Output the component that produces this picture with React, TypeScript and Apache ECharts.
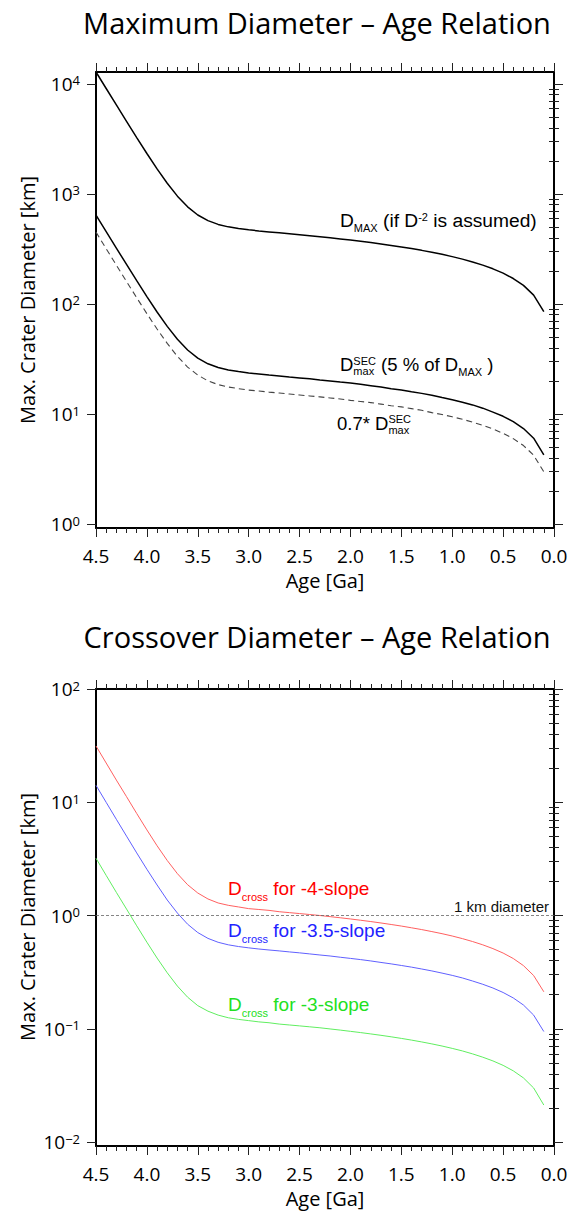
import React, { useEffect, useRef } from "react";
import * as echarts from "echarts";

// ---------- data ----------
const AGES = [4.5, 4.4, 4.3, 4.2, 4.1, 4.0, 3.9, 3.8, 3.7, 3.6, 3.5, 3.4, 3.3, 3.2, 3.1, 3.0, 2.9, 2.8, 2.7, 2.6, 2.5, 2.4, 2.3, 2.2, 2.1, 2.0, 1.9, 1.8, 1.7, 1.6, 1.5, 1.4, 1.3, 1.2, 1.1, 1.0, 0.9, 0.8, 0.7, 0.6, 0.5, 0.4, 0.3, 0.2, 0.1];

const D_MAX = [12850, 9096, 6444, 4573, 3256, 2333, 1691, 1251, 955.6, 764.0, 644.5, 572.3, 529.1, 502.6, 485.0, 472.2, 461.7, 452.4, 443.6, 434.9, 426.3, 417.6, 408.8, 399.8, 390.6, 381.2, 371.5, 361.6, 351.4, 340.9, 330.1, 318.9, 307.3, 295.2, 282.7, 269.5, 255.7, 241.1, 225.5, 208.8, 190.6, 170.5, 147.6, 120.5, 85.2];

const D_SEC = [642.5, 454.8, 322.2, 228.7, 162.8, 116.7, 84.6, 62.6, 47.8, 38.2, 32.2, 28.6, 26.5, 25.1, 24.3, 23.6, 23.1, 22.6, 22.2, 21.7, 21.3, 20.9, 20.4, 20.0, 19.5, 19.1, 18.6, 18.1, 17.6, 17.0, 16.5, 15.9, 15.4, 14.8, 14.1, 13.5, 12.8, 12.1, 11.3, 10.4, 9.53, 8.53, 7.38, 6.03, 4.26];

const D_SEC_07 = [449.8, 318.4, 225.5, 160.1, 114.0, 81.7, 59.2, 43.8, 33.4, 26.7, 22.6, 20.0, 18.5, 17.6, 17.0, 16.5, 16.2, 15.8, 15.5, 15.2, 14.9, 14.6, 14.3, 14.0, 13.7, 13.3, 13.0, 12.7, 12.3, 11.9, 11.6, 11.2, 10.8, 10.3, 9.89, 9.43, 8.95, 8.44, 7.89, 7.31, 6.67, 5.97, 5.17, 4.22, 2.98];

const D_CROSS_4 = [31.4, 22.2, 15.7, 11.2, 7.96, 5.70, 4.13, 3.06, 2.34, 1.87, 1.58, 1.40, 1.29, 1.23, 1.19, 1.15, 1.13, 1.11, 1.08, 1.06, 1.04, 1.02, 1.00, 0.977, 0.955, 0.932, 0.908, 0.884, 0.859, 0.833, 0.807, 0.779, 0.751, 0.721, 0.691, 0.659, 0.625, 0.589, 0.551, 0.510, 0.466, 0.417, 0.361, 0.295, 0.212];

const D_CROSS_35 = [14.1, 9.98, 7.07, 5.02, 3.57, 2.56, 1.86, 1.37, 1.05, 0.838, 0.707, 0.628, 0.580, 0.551, 0.532, 0.518, 0.506, 0.496, 0.487, 0.477, 0.468, 0.458, 0.448, 0.439, 0.428, 0.418, 0.408, 0.397, 0.385, 0.374, 0.362, 0.350, 0.337, 0.324, 0.310, 0.296, 0.281, 0.264, 0.247, 0.229, 0.209, 0.187, 0.162, 0.132, 0.0945];

const D_CROSS_3 = [3.20, 2.26, 1.60, 1.14, 0.811, 0.581, 0.421, 0.312, 0.238, 0.190, 0.160, 0.143, 0.132, 0.125, 0.121, 0.118, 0.115, 0.113, 0.110, 0.108, 0.106, 0.104, 0.102, 0.0996, 0.0973, 0.0949, 0.0925, 0.0900, 0.0875, 0.0849, 0.0822, 0.0794, 0.0765, 0.0735, 0.0704, 0.0671, 0.0637, 0.0600, 0.0561, 0.0520, 0.0475, 0.0425, 0.0368, 0.0300, 0.0212];

const TOP_MAJOR = [1, 10, 100, 1000, 10000];
const BOT_MAJOR = [0.01, 0.1, 1, 10, 100];
const MINOR_MULT = [2, 3, 4, 5, 6, 7, 8, 9];
const TOP_RANGE = [0.92, 12850];
const BOT_RANGE = [0.00922, 100];
const ONE_KM = 1;

const TITLE_TOP = "Maximum Diameter \u2013 Age Relation";
const TITLE_BOT = "Crossover Diameter \u2013 Age Relation";
const Y_NAME = "Max. Crater Diameter [km]";
const X_NAME = "Age [Ga]";

// ---------- helpers ----------
const SANS = '"Open Sans", "Noto Sans", sans-serif';
const ARIAL = '"Liberation Sans", Arial, sans-serif';

function minorsOf(majors: number[], lo: number, hi: number) {
  const out: number[] = [];
  majors.forEach((m) =>
    MINOR_MULT.forEach((k) => {
      const v = +(m * k).toPrecision(6);
      if (v > lo && v < hi) out.push(v);
    })
  );
  return out;
}

function powLabel(v: number) {
  const e = Math.round(Math.log10(v));
  const s = e < 0 ? "\u2212" + -e : String(e);
  return "{b|10}{s|" + s + "}";
}

const POW_RICH = {
  b: { fontSize: 19, fontFamily: SANS, color: "#000", lineHeight: 20 },
  s: { fontSize: 13, fontFamily: SANS, color: "#000", lineHeight: 13, verticalAlign: "top" },
};

const TICK_STYLE = { color: "#222", width: 1 };
const FRAME = { color: "#000", width: 2 };

function xAxes(grid: number) {
  const base: any = {
    type: "value",
    gridIndex: grid,
    min: 0,
    max: 4.5,
    interval: 0.5,
    inverse: true,
    axisLine: { show: true, onZero: false, lineStyle: FRAME },
    axisTick: { show: true, inside: false, length: 9, lineStyle: TICK_STYLE },
    minorTick: { show: true, splitNumber: 5, length: 5, lineStyle: TICK_STYLE },
    splitLine: { show: false },
    minorSplitLine: { show: false },
  };
  return [
    {
      ...base,
      position: "bottom",
      axisLabel: {
        show: true,
        margin: 18,
        formatter: (v: number) => v.toFixed(1),
        fontFamily: SANS,
        fontSize: 19,
        color: "#000",
      },
    },
    { ...base, position: "top", axisLabel: { show: false } },
  ];
}

function yAxes(grid: number, range: number[], majors: number[]) {
  const minors = minorsOf(majors, range[0], range[1]);
  const common: any = {
    type: "log",
    logBase: 10,
    gridIndex: grid,
    min: range[0],
    max: range[1],
    splitLine: { show: false },
    minorTick: { show: false },
    minorSplitLine: { show: false },
  };
  const majorTick = { show: true, inside: false, length: 9, customValues: majors, lineStyle: TICK_STYLE };
  const minorTick = { show: true, inside: false, length: 5, customValues: minors, lineStyle: TICK_STYLE };
  return [
    {
      ...common,
      position: "left",
      axisLine: { show: true, onZero: false, lineStyle: FRAME },
      axisTick: majorTick,
      axisLabel: { show: true, customValues: majors, margin: 16, formatter: powLabel, rich: POW_RICH },
    },
    { ...common, position: "left", axisLine: { show: false }, axisTick: minorTick, axisLabel: { show: false } },
    {
      ...common,
      position: "right",
      axisLine: { show: true, onZero: false, lineStyle: FRAME },
      axisTick: majorTick,
      axisLabel: { show: false },
    },
    { ...common, position: "right", axisLine: { show: false }, axisTick: minorTick, axisLabel: { show: false } },
  ];
}

type Piece = { t: string; size: number; rise?: number; t2?: string; rise2?: number };

function buildLabel(x: number, baseline: number, color: string, pieces: Piece[], ctx: CanvasRenderingContext2D) {
  const els: any[] = [];
  let cx = x;
  for (const p of pieces) {
    const font = `${p.size}px ${ARIAL}`;
    ctx.font = font;
    const items = [{ t: p.t, r: p.rise || 0 }];
    if (p.t2) items.push({ t: p.t2, r: p.rise2 || 0 });
    let w = 0;
    for (const it of items) {
      els.push({
        type: "text",
        x: cx,
        y: baseline + it.r - 0.347 * p.size,
        silent: true,
        style: { text: it.t, font, fill: color, align: "left", verticalAlign: "middle" },
      });
      w = Math.max(w, ctx.measureText(it.t).width);
    }
    cx += w;
  }
  return els;
}

function plainText(x: number, y: number, text: string, size: number, family: string, extra: any = {}) {
  return {
    type: "text",
    x,
    y,
    silent: true,
    ...extra,
    style: { text, font: `${size}px ${family}`, fill: "#000", align: "center", verticalAlign: "middle" },
  };
}

const pairs = (vals: number[]) => AGES.map((a, i) => [a, vals[i]]);

export default function App() {
  const ref = useRef<HTMLDivElement>(null);

  useEffect(() => {
    if (!ref.current) return;
    const chart = echarts.init(ref.current, undefined, { renderer: "svg" });
    const ctx = document.createElement("canvas").getContext("2d") as CanvasRenderingContext2D;

    const LS = 18.5;
    const annotations = [
      ...buildLabel(340, 227.5, "#000", [
        { t: "D", size: 19.2 },
        { t: "MAX", size: 11, rise: 4.5 },
        { t: " (if D", size: 19.2 },
        { t: "-2", size: 11, rise: -7 },
        { t: " is assumed)", size: 19.2 },
      ], ctx),
      ...buildLabel(340, 370.5, "#000", [
        { t: "D", size: LS },
        { t: "SEC", size: 11, rise: -6, t2: "max", rise2: 4 },
        { t: " (5 % of D", size: LS },
        { t: "MAX", size: 11, rise: 5 },
        { t: " )", size: LS },
      ], ctx),
      ...buildLabel(337, 430, "#000", [
        { t: "0.7* D", size: LS },
        { t: "SEC", size: 11, rise: -7, t2: "max", rise2: 4 },
      ], ctx),
      ...buildLabel(228, 895, "#ff0000", [
        { t: "D", size: 19 },
        { t: "cross", size: 11, rise: 6 },
        { t: " for -4-slope", size: 19 },
      ], ctx),
      ...buildLabel(228, 937, "#2222ff", [
        { t: "D", size: 19 },
        { t: "cross", size: 11, rise: 6 },
        { t: " for -3.5-slope", size: 19 },
      ], ctx),
      ...buildLabel(228, 1011.5, "#22e022", [
        { t: "D", size: 19 },
        { t: "cross", size: 11, rise: 5 },
        { t: " for -3-slope", size: 19 },
      ], ctx),
      {
        type: "text",
        x: 549,
        y: 911.5 - 0.347 * 15,
        silent: true,
        style: { text: "1 km diameter", font: `15px ${ARIAL}`, fill: "#111", align: "right", verticalAlign: "middle" },
      },
    ];

    const option: any = {
      animation: false,
      backgroundColor: "#fff",
      grid: [
        { left: 96, top: 72, width: 458, height: 456, outerBoundsMode: "none", containLabel: false },
        { left: 96, top: 689, width: 458, height: 457, outerBoundsMode: "none", containLabel: false },
      ],
      xAxis: [...xAxes(0), ...xAxes(1)],
      yAxis: [...yAxes(0, TOP_RANGE, TOP_MAJOR), ...yAxes(1, BOT_RANGE, BOT_MAJOR)],
      series: [
        {
          type: "line", xAxisIndex: 0, yAxisIndex: 0, data: pairs(D_MAX), symbol: "none", silent: true,
          lineStyle: { color: "#000", width: 1.5 },
        },
        {
          type: "line", xAxisIndex: 0, yAxisIndex: 0, data: pairs(D_SEC), symbol: "none", silent: true,
          lineStyle: { color: "#000", width: 1.5 },
        },
        {
          type: "line", xAxisIndex: 0, yAxisIndex: 0, data: pairs(D_SEC_07), symbol: "none", silent: true,
          lineStyle: { color: "#444", width: 1.1, type: [6, 4] },
        },
        {
          type: "line", xAxisIndex: 2, yAxisIndex: 4, data: pairs(D_CROSS_4), symbol: "none", silent: true,
          lineStyle: { color: "#ff6060", width: 1 },
          markLine: {
            silent: true, symbol: "none", label: { show: false },
            lineStyle: { color: "#666", width: 0.8, type: [3, 2] },
            data: [{ yAxis: ONE_KM }],
          },
        },
        {
          type: "line", xAxisIndex: 2, yAxisIndex: 4, data: pairs(D_CROSS_35), symbol: "none", silent: true,
          lineStyle: { color: "#6060ff", width: 1 },
        },
        {
          type: "line", xAxisIndex: 2, yAxisIndex: 4, data: pairs(D_CROSS_3), symbol: "none", silent: true,
          lineStyle: { color: "#60ee60", width: 1 },
        },
      ],
      graphic: [
        plainText(317, 22, TITLE_TOP, 29, SANS),
        plainText(317, 636, TITLE_BOT, 29, SANS),
        plainText(27, 300, Y_NAME, 20, SANS, { rotation: Math.PI / 2 }),
        plainText(27, 917, Y_NAME, 20, SANS, { rotation: Math.PI / 2 }),
        plainText(325, 580, X_NAME, 20, SANS),
        plainText(325, 1198, X_NAME, 20, SANS),
        ...annotations,
      ],
    };
    chart.setOption(option);
    return () => chart.dispose();
  }, []);

  return <div ref={ref} style={{ position: "absolute", left: 0, top: 0, width: 569, height: 1217 }} />;
}
